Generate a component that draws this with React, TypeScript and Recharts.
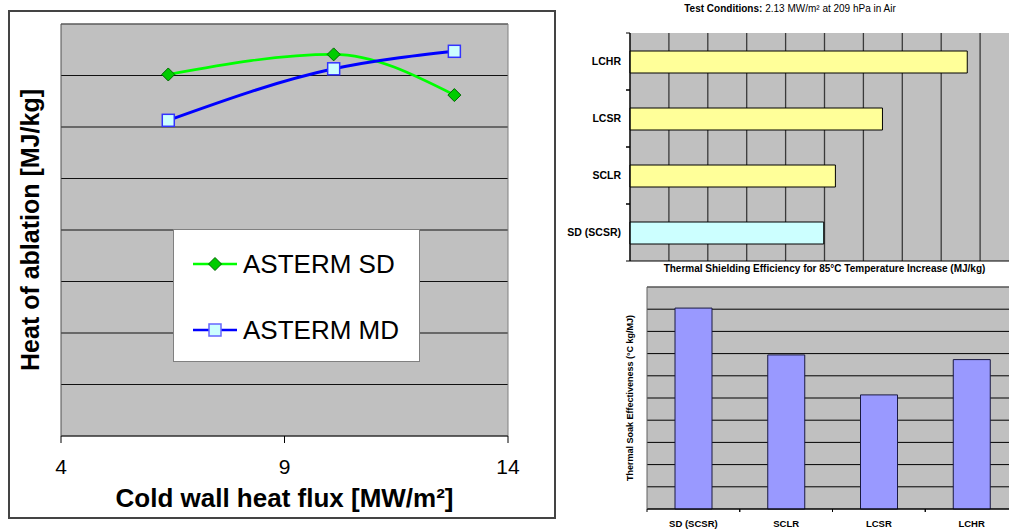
import React from 'react'
import {
  LineChart, Line, BarChart, Bar, Cell, XAxis, YAxis, CartesianGrid, Legend, ReferenceLine,
} from 'recharts'

const FONT = "Arial, 'Liberation Sans', Helvetica, sans-serif"

// left chart: heat of ablation vs cold wall heat flux
const seriesNames = ['ASTERM SD', 'ASTERM MD']
const sdFlux = [6.4, 10.1, 12.8]
const sdHeat = [7.02, 7.41, 6.62]
const mdFlux = [6.4, 10.1, 12.8]
const mdHeat = [6.13, 7.13, 7.47]
const fluxTicks = [4, 9, 14]
const heatTicks = [0, 1, 2, 3, 4, 5, 6, 7, 8]

// top right: thermal shielding efficiency
const shieldMaterials = ['LCHR', 'LCSR', 'SCLR', 'SD (SCSR)']
const shieldValues = [8.67, 6.49, 5.28, 4.98]
const shieldColors = ['#ffff99', '#ffff99', '#ffff99', '#ccffff']
const shieldTicks = [0, 1, 2, 3, 4, 5, 6, 7, 8, 9, 10]

// bottom right: thermal soak effectiveness
const soakMaterials = ['SD (SCSR)', 'SCLR', 'LCSR', 'LCHR']
const soakValues = [9.05, 6.94, 5.14, 6.73]
const soakTicks = [0, 1, 2, 3, 4, 5, 6, 7, 8, 9, 10]

const sdData = sdFlux.map((f, i) => ({ flux: f, heat: sdHeat[i] }))
const mdData = mdFlux.map((f, i) => ({ flux: f, heat: mdHeat[i] }))
const shieldData = shieldMaterials.map((name, i) => ({ name, value: shieldValues[i] }))
const soakData = soakMaterials.map((name, i) => ({ name, value: soakValues[i] }))

// invisible tick: keeps the grid lines (tick={false} would drop them)
const noTick = () => <g />

const diamondDot = (props: any) => {
  const { cx, cy, index } = props
  if (cx == null || cy == null) return <g key={`d${index}`} />
  const r = 6.5
  return (
    <polygon
      key={`d${index}`}
      points={`${cx},${cy - r} ${cx + r},${cy} ${cx},${cy + r} ${cx - r},${cy}`}
      fill="#00cc00"
      stroke="#006600"
      strokeWidth={1}
    />
  )
}

const squareDot = (props: any) => {
  const { cx, cy, index } = props
  if (cx == null || cy == null) return <g key={`s${index}`} />
  return (
    <rect key={`s${index}`} x={cx - 6} y={cy - 6} width={12} height={12} fill="#ccffff" stroke="#3333ff" strokeWidth={1.5} />
  )
}

const LegendBox = (props: any) => {
  const items = props.payload || []
  return (
    <div style={{ position: 'relative', width: 247, height: 133, background: '#fff', border: '1.5px solid #808080', boxSizing: 'border-box' }}>
      {seriesNames.map((name, i) => {
        const entry = items.find((e: any) => e.value === name)
        const color = entry ? entry.color : '#000'
        return (
          <div key={name} style={{ position: 'absolute', left: 19, top: i === 0 ? 19 : 85, height: 30, display: 'flex', alignItems: 'center' }}>
            <svg width={46} height={16} style={{ marginRight: 4 }}>
              <line x1={0} y1={8} x2={44} y2={8} stroke={color} strokeWidth={2.5} />
              {i === 0
                ? <polygon points="22,1.5 28.5,8 22,14.5 15.5,8" fill="#00cc00" stroke="#006600" />
                : <rect x={16} y={2} width={12} height={12} fill="#ccffff" stroke="#6666ff" strokeWidth={1.5} />}
            </svg>
            <span style={{ fontSize: 26, lineHeight: '30px', color: '#000', fontFamily: FONT }}>{name}</span>
          </div>
        )
      })}
    </div>
  )
}

// category tick for the horizontal bar chart: label plus boundary marks on the axis
const ShieldTick = (props: any) => {
  const { x, y, payload } = props
  const half = payload.offset ?? 28.5
  const ax = x + 9
  return (
    <g>
      <text x={x} y={y} dy="0.36em" textAnchor="end" fontSize={10.5} fontWeight="bold" fill="#000">{payload.value}</text>
      <line x1={ax - 4} x2={ax} y1={y - half} y2={y - half} stroke="#000" />
      <line x1={ax - 4} x2={ax} y1={y + half} y2={y + half} stroke="#000" />
    </g>
  )
}

const SoakTick = (props: any) => {
  const { x, y, payload } = props
  const half = payload.offset ?? 46.3
  const ay = y - 11
  return (
    <g>
      <text x={x} y={y} dy="0.71em" textAnchor="middle" fontSize={9.5} fontWeight="bold" fill="#000">{payload.value}</text>
      <line x1={x - half} x2={x - half} y1={ay} y2={ay + 3} stroke="#000" />
      <line x1={x + half} x2={x + half} y1={ay} y2={ay + 3} stroke="#000" />
    </g>
  )
}

export default function App() {
  return (
    <div style={{ position: 'absolute', left: 0, top: 0, width: 1009, height: 529, overflow: 'hidden', background: '#fff', fontFamily: FONT }}>
      <div style={{ position: 'absolute', left: 8, top: 10, width: 548, height: 509, border: '2px solid #444', boxSizing: 'border-box' }} />

      <div style={{ position: 'absolute', left: 0, top: 0 }}>
        <LineChart width={556} height={529} margin={{ top: 24, right: 48, bottom: 0, left: 0 }}>
          <CartesianGrid vertical={false} stroke="#111" fill="#c0c0c0" fillOpacity={1} />
          <XAxis
            type="number"
            dataKey="flux"
            domain={[4, 14]}
            ticks={fluxTicks}
            interval={0}
            height={93}
            tickSize={7}
            tickMargin={16}
            tick={{ fill: '#000', fontSize: 21 }}
            tickLine={{ stroke: '#000' }}
            axisLine={{ stroke: '#404040' }}
            allowDuplicatedCategory={false}
            label={{ value: 'Cold wall heat flux [MW/m²]', position: 'insideBottom', offset: 22, fontSize: 26, fontWeight: 'bold', fill: '#000' }}
          />
          <YAxis
            type="number"
            domain={[0, 8]}
            ticks={heatTicks}
            interval={0}
            width={61}
            tick={noTick}
            tickLine={false}
            axisLine={{ stroke: '#505050' }}
            label={{ value: 'Heat of ablation [MJ/kg]', angle: -90, position: 'center', fontSize: 25, fontWeight: 'bold', fill: '#000' }}
          />
          <ReferenceLine x={14} stroke="#808080" />
          <ReferenceLine y={8} stroke="#808080" />
          <Legend
            layout="horizontal"
            verticalAlign="middle"
            align="center"
            wrapperStyle={{ left: 173, top: 229, width: 247, height: 133 }}
            content={<LegendBox />}
          />
          <Line
            data={sdData}
            dataKey="heat"
            name={seriesNames[0]}
            type="monotone"
            stroke="#00ff00"
            strokeWidth={2.7}
            dot={diamondDot}
            activeDot={false}
            isAnimationActive={false}
          />
          <Line
            data={mdData}
            dataKey="heat"
            name={seriesNames[1]}
            type="monotone"
            stroke="#0000ff"
            strokeWidth={3}
            dot={squareDot}
            activeDot={false}
            isAnimationActive={false}
          />
        </LineChart>
      </div>

      <div style={{ position: 'absolute', left: 540, top: 3, width: 500, textAlign: 'center', fontSize: 10, lineHeight: '11px', color: '#000' }}>
        <b>Test Conditions:</b> 2.13 MW/m² at 209 hPa in Air
      </div>

      <div style={{ position: 'absolute', left: 540, top: 0 }}>
        <BarChart layout="vertical" width={500} height={290} data={shieldData} margin={{ top: 33, right: 21, bottom: 0, left: 0 }} barSize={22}>
          <CartesianGrid horizontal={false} stroke="#3a3a3a" strokeWidth={1.3} fill="#c0c0c0" fillOpacity={1} />
          <XAxis
            type="number"
            domain={[0, 10]}
            ticks={shieldTicks}
            interval={0}
            height={29}
            tick={noTick}
            tickLine={false}
            axisLine={{ stroke: '#000' }}
            label={{ value: 'Thermal Shielding Efficiency for 85°C Temperature Increase (MJ/kg)', position: 'insideTop', offset: 4, fontSize: 10, fontWeight: 'bold', fill: '#000' }}
          />
          <YAxis
            type="category"
            dataKey="name"
            width={90}
            tickSize={4}
            tickMargin={5}
            tickLine={false}
            axisLine={{ stroke: '#000' }}
            tick={<ShieldTick />}
            interval={0}
          />
          <Bar dataKey="value" stroke="#000" strokeWidth={1} isAnimationActive={false}>
            {shieldData.map((d, i) => <Cell key={d.name} fill={shieldColors[i]} />)}
          </Bar>
        </BarChart>
      </div>

      <div style={{ position: 'absolute', left: 590, top: 270 }}>
        <BarChart width={440} height={259} data={soakData} margin={{ top: 17, right: 12, bottom: 0, left: 23 }} barSize={37}>
          <CartesianGrid vertical={false} stroke="#000" fill="#c0c0c0" fillOpacity={1} />
          <XAxis
            type="category"
            dataKey="name"
            height={20}
            tickSize={3}
            tickMargin={8}
            tickLine={false}
            axisLine={{ stroke: '#000' }}
            tick={<SoakTick />}
            interval={0}
          />
          <YAxis
            type="number"
            domain={[0, 10]}
            ticks={soakTicks}
            interval={0}
            width={34}
            tick={noTick}
            tickLine={false}
            axisLine={{ stroke: '#606060' }}
            label={{ value: 'Thermal Soak Effectiveness (°C kg/MJ)', angle: -90, position: 'center', fontSize: 9, fontWeight: 'bold', fill: '#000' }}
          />
          <ReferenceLine y={10} stroke="#808080" />
          <Bar dataKey="value" fill="#9999ff" stroke="#1a1a40" strokeWidth={1} isAnimationActive={false} />
        </BarChart>
      </div>
    </div>
  )
}
